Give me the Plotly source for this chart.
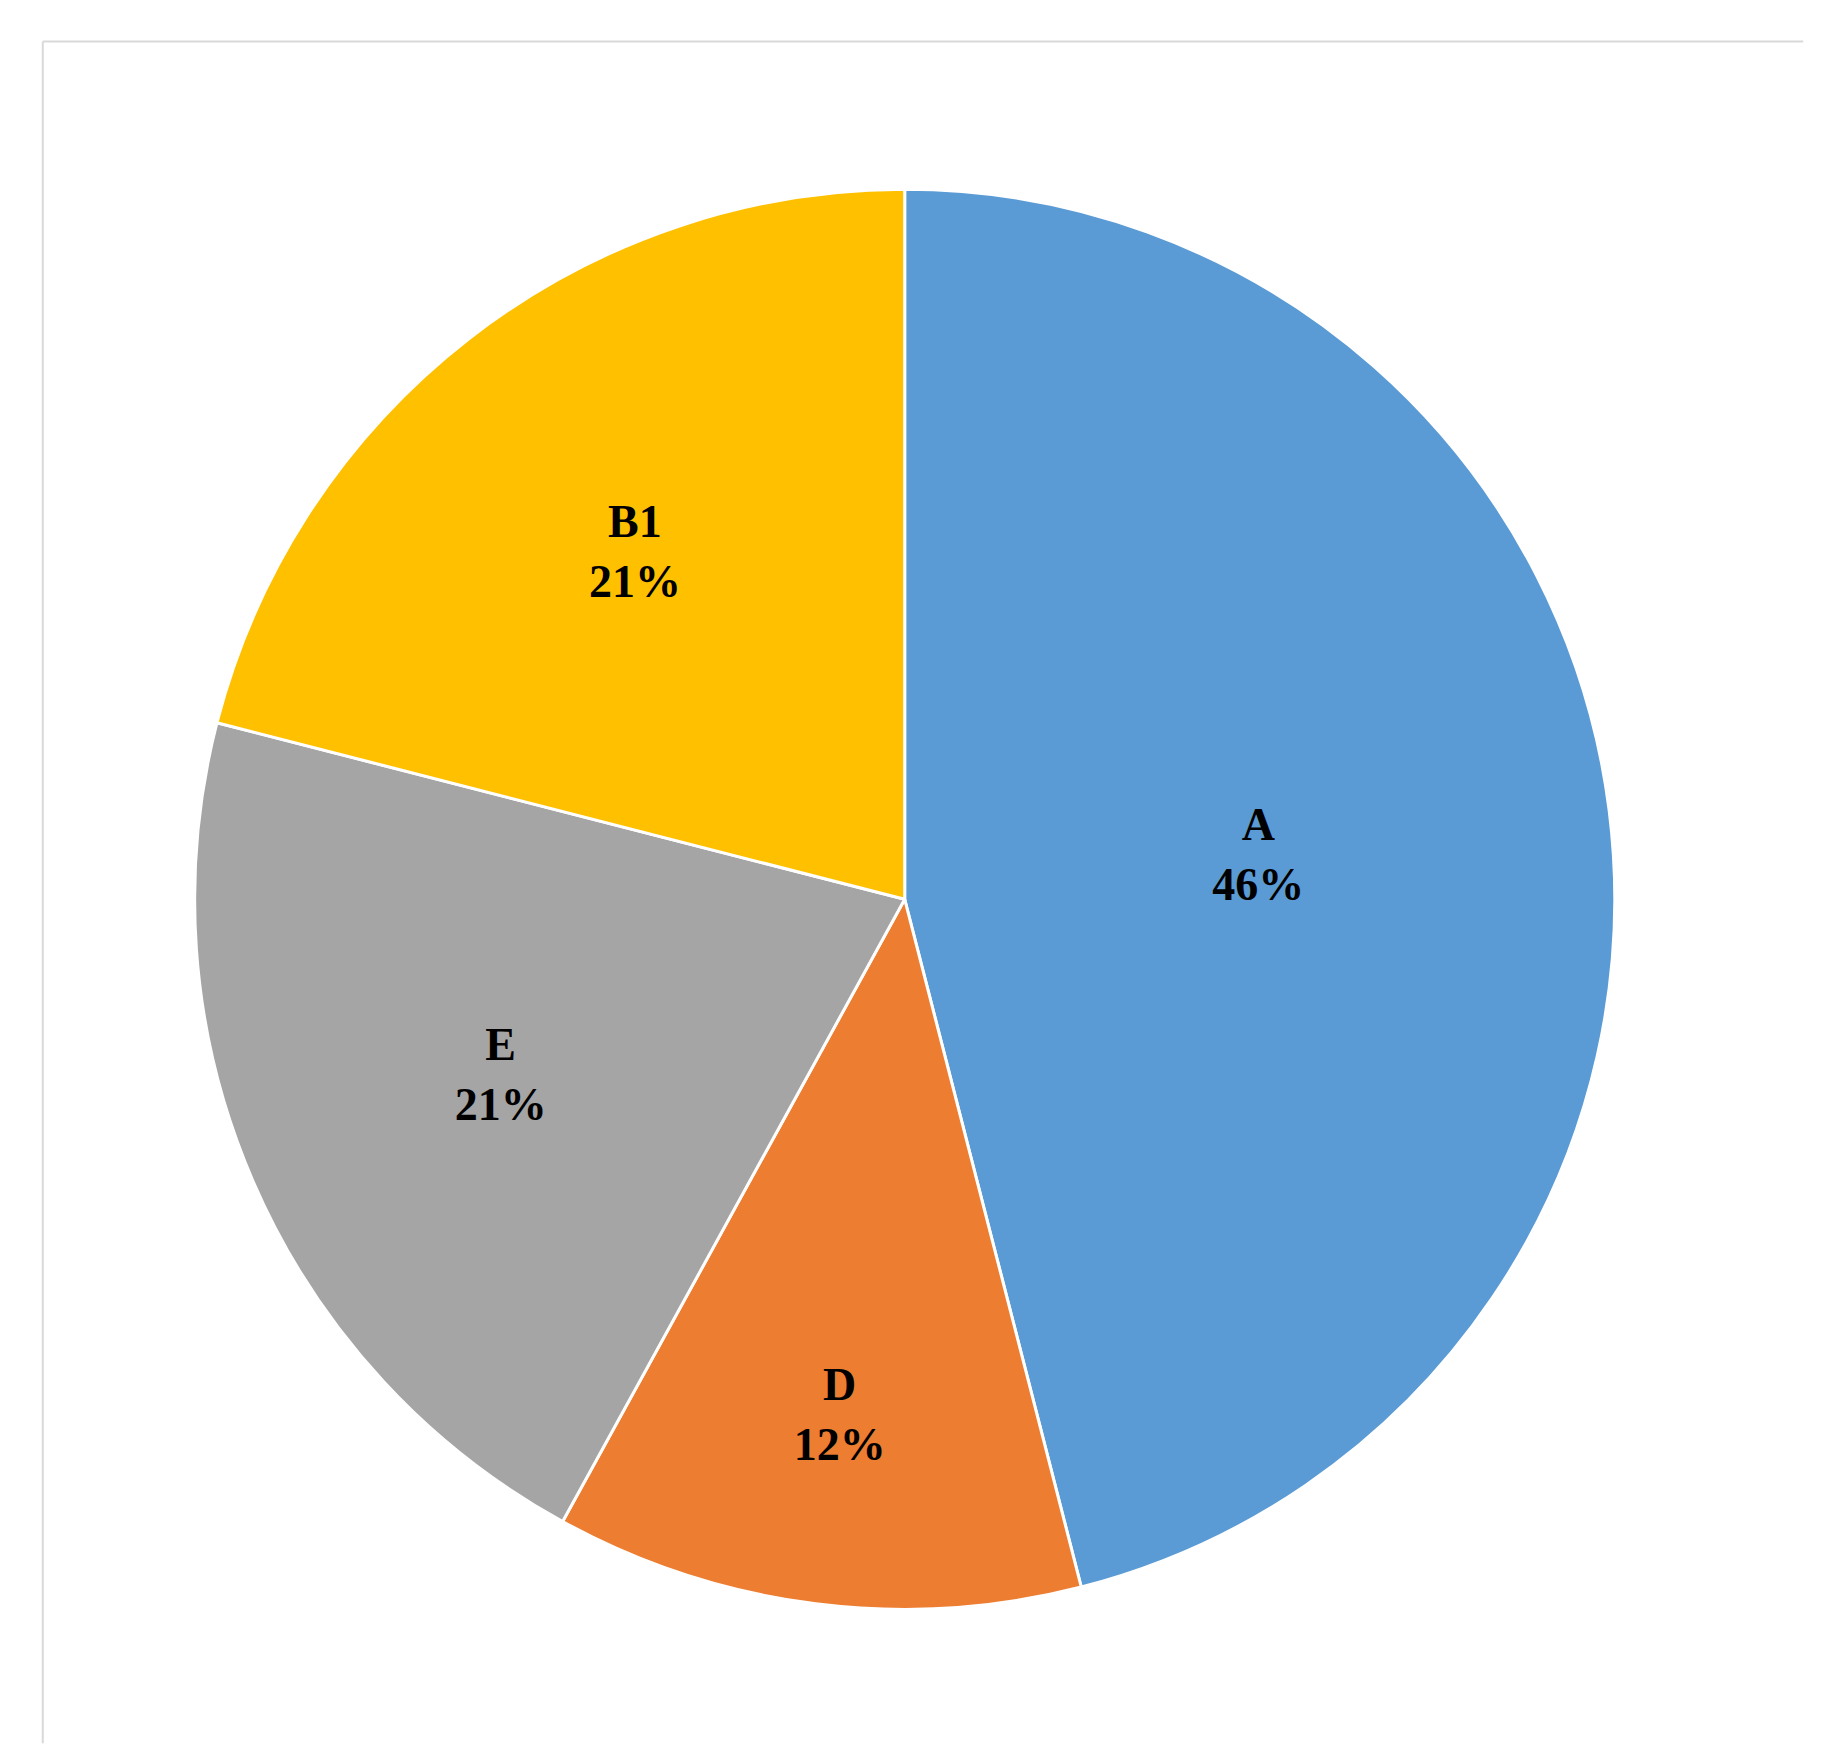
import plotly.graph_objects as go

labels = ["A", "D", "E", "B1"]
values = [46, 12, 21, 21]
colors = ["#5B9BD5", "#ED7D31", "#A5A5A5", "#FFC000"]

fig = go.Figure(go.Pie(
    labels=labels,
    values=values,
    sort=False,
    direction="clockwise",
    rotation=0,
    marker=dict(colors=colors, line=dict(color="white", width=3)),
    textinfo="label+percent",
    texttemplate="<b>%{label}<br>%{percent:.0%}</b>",
    textposition="inside",
    insidetextorientation="horizontal",
    textfont=dict(family="Liberation Serif", size=46, color="black"),
    domain=dict(x=[0.102, 0.878], y=[0.089, 0.897]),
    showlegend=False,
    hoverinfo="label+percent",
))

# light frame lines at top and left, as in the source figure
fig.add_shape(type="line", xref="paper", yref="paper",
              x0=0.019, x1=0.981, y0=0.981, y1=0.981,
              line=dict(color="#D9D9D9", width=2))
fig.add_shape(type="line", xref="paper", yref="paper",
              x0=0.019, x1=0.019, y0=0.013, y1=0.981,
              line=dict(color="#D9D9D9", width=2))

fig.update_layout(
    width=1830, height=1758,
    margin=dict(l=0, r=0, t=0, b=0),
    paper_bgcolor="white",
    plot_bgcolor="white",
)

fig.write_html("out.html")
